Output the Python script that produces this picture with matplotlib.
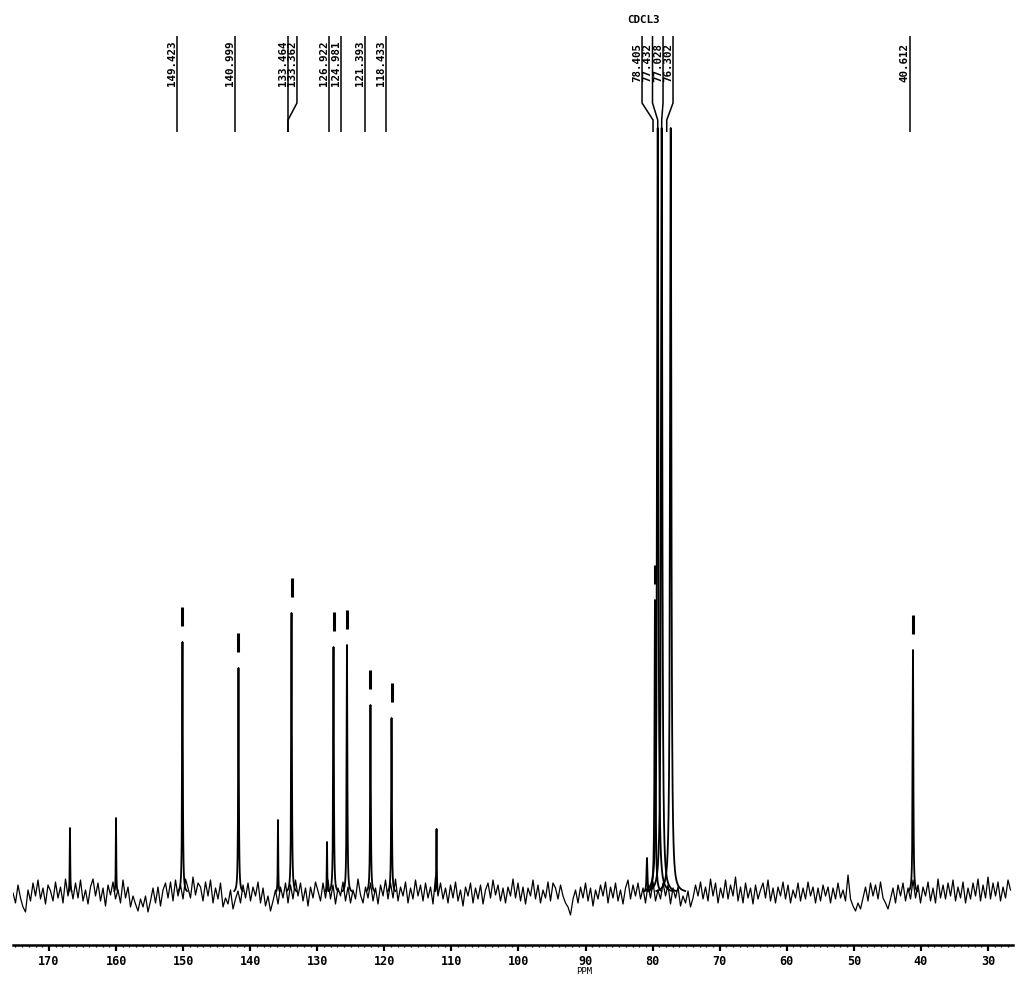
import numpy as np
import matplotlib
matplotlib.use('Agg')
import matplotlib.pyplot as plt
from matplotlib.ticker import MultipleLocator

# peaks: shift on printed axis (ppm), height above baseline, line half-width
peak_ppm = [166.87, 160.01, 150.10, 141.75, 135.86, 133.84, 128.55, 127.58, 125.57,
            122.07, 118.93, 112.22, 80.84, 79.65, 79.24, 78.65, 77.30, 41.18]
peak_height = [65, 75, 251, 225, 73, 280, 51, 246, 248,
               188, 175, 64, 35, 293, 765, 765, 765, 243]
peak_width = [0.04, 0.04, 0.06, 0.06, 0.04, 0.06, 0.04, 0.06, 0.06,
              0.06, 0.06, 0.04, 0.08, 0.08, 0.11, 0.11, 0.11, 0.06]
peak_marked = [0, 0, 1, 1, 0, 1, 0, 1, 1, 1, 1, 0, 0, 1, 0, 0, 0, 1]

# baseline noise, sampled every ~0.37 ppm from the left edge
noise = [0, -10, 8, -5, -14, -19, 3, -8, 10, -3, 13, -6, 5, -11, 8, 2, -8, 11, -5, 6, -10, 14, -3, 8, -6,
         10, -5, 13, -8, 3, -11, 6, 14, -3, 10, -8, 5, -13, 8, -2, 11, -6, 3, -10, 13, -5, 6, -14, -3, -11,
         -18, -6, -14, -3, -19, -8, 5, -10, 6, -13, 3, 10, -5, 11, -8, 13, -3, 8, -6, 14, 5, -5, 16, -2, 10,
         6, -8, 11, -3, 13, -10, 5, -6, 10, -14, -5, -11, 3, -16, -6, 2, -10, 8, -5, 10, -8, 6, -3, 11, -10,
         5, -13, -3, -18, -8, 3, -11, 6, -5, 10, -10, 8, -6, 13, -3, 10, -8, 5, -13, 6, -5, 11, 2, -8, 10,
         -5, 13, -6, 8, -11, 5, -3, 11, -8, 6, -10, 3, -6, 14, -2, -10, 6, -5, 10, -8, 5, -11, 8, -3, 13,
         -6, 10, -5, 14, -8, 6, -3, 11, -10, 5, -6, 13, -3, 8, -8, 10, -5, 6, -11, 16, -3, 10, -6, 5, -10,
         8, -5, 11, -8, 3, -13, 6, -3, 10, -10, 5, -6, 8, -11, 3, 10, -5, 13, -2, 8, -8, 5, -10, 6, -3,
         14, -5, 10, -8, 6, -11, 5, -3, 13, -6, 8, -10, 3, -5, 11, -8, 10, 5, -6, 8, -3, -10, -14, -22, -6,
         3, -10, 6, -5, 10, -8, 5, -13, 3, -6, 8, -3, 11, -10, 6, -5, 10, -8, 3, -11, 5, 13, -6, 8, -3,
         10, -6, 5, -10, 8, -5, 11, -8, 3, -6, 10, -3, 8, -11, 5, -5, 6, -13, -3, -10, 2, -14, -5, 8, -3,
         11, -6, 6, -8, 14, -3, 10, -10, 5, -5, 13, -6, 8, -3, 16, -8, 6, -10, 10, -5, 5, -11, 8, -6, 3,
         10, -5, 13, -8, 5, -10, 6, -3, 11, -6, 8, -10, 3, -5, 10, -8, 5, -6, 11, -3, 6, -10, 5, -8, 8,
         -3, 6, -10, 5, -6, 10, -5, 3, -8, 18, -6, -13, -18, -10, -16, -5, 6, -8, 10, -3, 8, -6, 11, -5, -10,
         -16, -6, 5, -10, 8, -3, 10, -8, 5, -6, 13, -5, 8, -10, 6, -3, 11, -8, 5, -10, 14, -5, 8, -6, 10,
         -3, 13, -8, 6, -5, 11, -10, 5, -6, 10, -3, 14, -8, 8, -5, 16, -6, 10, -3, 11, -8, 6, -5, 13, 3]
noise_start, noise_end = 175.37, 26.64

# peak-pick labels and where their leader lines sit (top / bottom end)
label_text = ['149.423', '140.999', '133.464', '133.362', '126.922', '124.981', '121.393',
              '118.433', '78.405', '77.432', '77.028', '76.302', '40.612']
label_top = [150.92, 142.27, 134.37, 133.03, 128.25, 126.46, 122.89,
             119.75, 81.58, 80.02, 78.45, 76.96, 41.63]
label_end = [150.92, 142.27, 134.37, 134.37, 128.25, 126.46, 122.89,
             119.75, 79.94, 79.24, 78.65, 77.90, 41.63]

W, H = 1023, 1005
fig = plt.figure(figsize=(W / 100, H / 100), dpi=100)
ax = fig.add_axes([13 / W, 60 / H, 1000 / W, 945 / H])
ax.set_xlim(175.37, 26.27)
ax.set_ylim(-52, 893)

ax.plot(np.linspace(noise_start, noise_end, len(noise)), noise, color='black', lw=0.9)

for p, h, w in zip(peak_ppm, peak_height, peak_width):
    reach = w * np.sqrt(h / 2.0)
    xs = np.linspace(p - reach, p + reach, 201)
    ys = h / (1 + ((xs - p) / w) ** 2)
    ax.plot(xs, ys, color='black', lw=1.3)

for p, h, m in zip(peak_ppm, peak_height, peak_marked):
    if m:
        ax.vlines(p, h + 16, h + 35, color='black', lw=2.2)

# leader lines + rotated labels
top_y, bend0, bend1, bottom_y = 893 - 36, 893 - 103, 893 - 120, 893 - 132
for txt, t, e in zip(label_text, label_top, label_end):
    ax.plot([t, t, e, e], [top_y, bend0, bend1, bottom_y], color='black', lw=1.1,
            solid_capstyle='butt')
    ax.annotate(txt, xy=(t, 893 - 63), xytext=(-1.5, 0), textcoords='offset points',
                rotation=90, rotation_mode='anchor', ha='center', va='baseline',
                fontsize=7.8, fontweight='bold', family='DejaVu Sans Mono',
                annotation_clip=False)

fig.text(643 / W, 1 - 20 / H, 'CDCL3', ha='center', va='center', fontsize=7.8,
         fontweight='bold', family='DejaVu Sans Mono')

for s in ['left', 'right', 'top']:
    ax.spines[s].set_visible(False)
ax.spines['bottom'].set_linewidth(1.8)
ax.set_yticks([])
ax.set_xticks(np.arange(170, 25, -10))
ax.xaxis.set_minor_locator(MultipleLocator(1))
ax.tick_params(axis='x', which='major', direction='out', length=4, width=1.6, pad=3)
ax.tick_params(axis='x', which='minor', direction='out', length=1.5, width=1.0)
for lab in ax.get_xticklabels():
    lab.set_family('DejaVu Sans Mono')
    lab.set_fontweight('bold')
    lab.set_fontsize(8.5)

fig.text(584 / W, 1 - 971 / H, 'PPM', ha='center', va='center', fontsize=6.5,
         family='DejaVu Sans Mono')

fig.savefig('out.png', dpi=100, facecolor='white')
